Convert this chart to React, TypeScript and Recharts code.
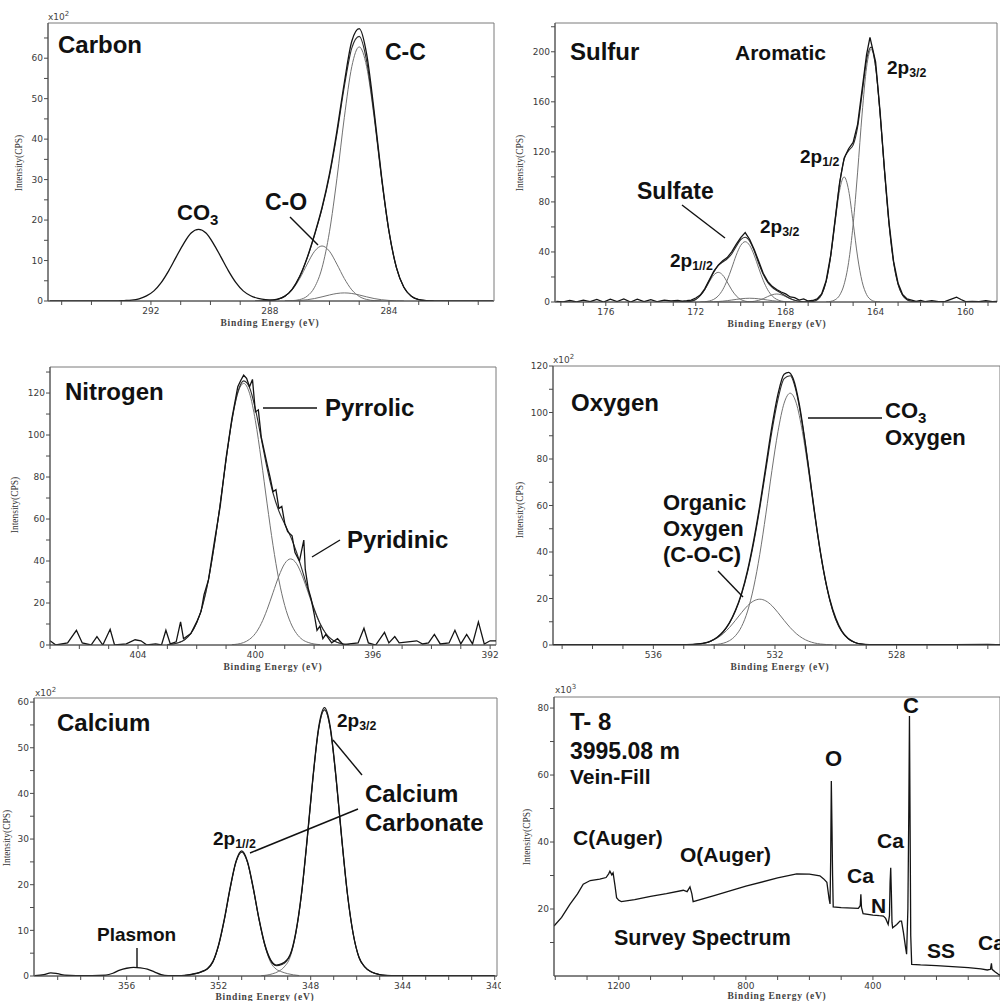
import React from 'react';
import { LineChart, Line, XAxis, YAxis, ReferenceArea } from 'recharts';

type Pt = [number, number];

// ---------- Carbon 1s ----------
const carbonXTicks = [281, 282, 283, 284, 285, 286, 287, 288, 289, 290, 291, 292, 293, 294, 295];
const carbonXLabels = [284, 288, 292];
const carbonYTicks = [0, 5, 10, 15, 20, 25, 30, 35, 40, 45, 50, 55, 60, 65];
const carbonYLabels = [0, 10, 20, 30, 40, 50, 60];

const carbonData: Pt[] = [
  [295.4, 0], [293.2, 0], [292.9, 0.1], [292.65, 0.22], [292.4, 0.55], [292.15, 1.25], [291.9, 2.5],
  [291.65, 4.6], [291.4, 7.5], [291.15, 10.9], [290.9, 14.2], [290.65, 16.8], [290.4, 17.7],
  [290.15, 16.8], [289.9, 14.2], [289.65, 10.9], [289.4, 7.5], [289.15, 4.6], [288.9, 2.5],
  [288.65, 1.3], [288.4, 0.65], [288.15, 0.35], [287.9, 0.3], [287.75, 0.45], [287.5, 1.2],
  [287.25, 2.95], [287.0, 6.1], [286.75, 10.7], [286.5, 16.5], [286.25, 23.1], [286.0, 31.4],
  [285.75, 42.0], [285.5, 54.0], [285.25, 64.2], [285.0, 67.3], [284.75, 61.0], [284.5, 47.0],
  [284.25, 30.8], [284.0, 17.3], [283.75, 8.3], [283.5, 3.4], [283.25, 1.2], [283.0, 0.35],
  [282.75, 0.09], [282.5, 0], [280.5, 0],
];
const carbonEnvelope: Pt[] = [
  [288.5, 0], [288.25, 0.02], [288.0, 0.1], [287.75, 0.38], [287.5, 1.16], [287.25, 2.9], [287.0, 6.04],
  [286.75, 10.6], [286.5, 16.3], [286.25, 22.8], [286.0, 30.9], [285.75, 41.2], [285.5, 53.0],
  [285.25, 62.5], [285.0, 65.4], [284.75, 59.3], [284.5, 46.1], [284.25, 30.5], [284.0, 17.2],
  [283.75, 8.25], [283.5, 3.4], [283.25, 1.2], [283.0, 0.35], [282.75, 0.09], [282.5, 0],
];
const carbonCC: Pt[] = [
  [287.5, 0.02], [287.25, 0.09], [287.0, 0.35], [286.75, 1.2], [286.5, 3.4], [286.25, 8.2], [286.0, 17.1],
  [285.75, 30.2], [285.5, 45.4], [285.25, 57.9], [285.0, 62.8], [284.75, 57.9], [284.5, 45.4],
  [284.25, 30.2], [284.0, 17.1], [283.75, 8.2], [283.5, 3.4], [283.25, 1.2], [283.0, 0.35],
  [282.75, 0.09], [282.5, 0.02],
];
const carbonCO: Pt[] = [
  [288.25, 0.02], [288.0, 0.1], [287.75, 0.38], [287.5, 1.13], [287.25, 2.76], [287.0, 5.55], [286.75, 9.1],
  [286.5, 12.3], [286.25, 13.6], [286.0, 12.3], [285.75, 9.1], [285.5, 5.55], [285.25, 2.76],
  [285.0, 1.13], [284.75, 0.38], [284.5, 0.1], [284.25, 0.02],
];
const carbonMinor: Pt[] = [
  [287.5, 0.01], [287.25, 0.05], [287.0, 0.14], [286.75, 0.31], [286.5, 0.61], [286.25, 1.03], [286.0, 1.49],
  [285.75, 1.86], [285.5, 2.0], [285.25, 1.86], [285.0, 1.49], [284.75, 1.03], [284.5, 0.61],
  [284.25, 0.31], [284.0, 0.14], [283.75, 0.05], [283.5, 0.01],
];

// ---------- Sulfur 2p ----------
const sulfurXTicks = [159, 160, 161, 162, 163, 164, 165, 166, 167, 168, 169, 170, 171, 172, 173, 174, 175, 176, 177, 178];
const sulfurXLabels = [160, 164, 168, 172, 176];
const sulfurYTicks = [0, 20, 40, 60, 80, 100, 120, 140, 160, 180, 200, 220];
const sulfurYLabels = [0, 40, 80, 120, 160, 200];

const sulfurData: Pt[] = [
  [178.2, 0.5], [177.9, 0], [177.6, 1.2], [177.3, 0], [177.0, 1.5], [176.7, 0.3], [176.4, 2.0], [176.1, 0],
  [175.8, 2.2], [175.5, 0.4], [175.2, 2.5], [174.9, 0], [174.6, 2.2], [174.3, 0.3], [174.0, 1.8],
  [173.7, 0.2], [173.4, 1.5], [173.1, 0.8], [172.8, 1.2], [172.6, 0.6], [172.4, 1.0], [172.2, 1.5],
  [172.0, 3.2], [171.8, 5.5], [171.6, 10.5], [171.4, 17.5], [171.2, 24.5], [171.0, 29.5], [170.8, 33.0],
  [170.6, 35.5], [170.4, 40.0], [170.2, 46.0], [170.0, 51.5], [169.8, 55.5], [169.6, 50.0], [169.4, 42.0],
  [169.2, 32.5], [169.0, 23.0], [168.8, 16.5], [168.6, 12.5], [168.4, 10.0], [168.2, 8.0], [168.0, 6.5],
  [167.8, 4.0], [167.6, 3.5], [167.4, 1.5], [167.2, 2.5], [167.0, 0.8], [166.8, 1.2], [166.6, 2.5],
  [166.4, 6.5], [166.2, 17], [166.0, 37], [165.8, 66], [165.6, 95.5], [165.4, 115], [165.2, 122.5],
  [165.0, 127.5], [164.8, 142], [164.6, 170], [164.4, 198], [164.25, 211.5], [164.0, 192], [163.8, 152],
  [163.6, 105], [163.4, 63], [163.2, 32.5], [163.0, 15], [162.8, 6.0], [162.6, 2.5], [162.4, 1.5],
  [162.2, 0.5], [162.0, 1.2], [161.8, 0.3], [161.5, 1.0], [161.2, 0.2], [160.9, 0.5], [160.6, 2.5],
  [160.4, 3.8], [160.2, 2.0], [160.0, 0.3], [159.7, 0.5], [159.4, 0.2], [159.1, 1.0], [158.8, 0.3], [158.6, 0.5],
];
const sulfurEnvelope: Pt[] = [
  [173.0, 0], [172.6, 0.04], [172.4, 0.19], [172.2, 0.68], [172.0, 2.0], [171.8, 5.0], [171.6, 10.0],
  [171.4, 16.9], [171.2, 23.8], [171.0, 29.0], [170.8, 32.0], [170.6, 34.5], [170.4, 38.4], [170.2, 44.4],
  [170.0, 49.8], [169.8, 51.8], [169.6, 48.6], [169.4, 40.9], [169.2, 31.0], [169.0, 22.1], [168.8, 15.7],
  [168.6, 11.7], [168.4, 9.2], [168.2, 7.0], [168.0, 4.8], [167.8, 2.8], [167.6, 1.4], [167.4, 0.54],
  [167.2, 0.18], [167.0, 0.12], [166.8, 0.39], [166.6, 1.69], [166.4, 5.9], [166.2, 16.4], [166.0, 36.5],
  [165.8, 65.4], [165.6, 94.7], [165.4, 114.1], [165.2, 121.0], [165.0, 125.4], [164.8, 139.8],
  [164.6, 166.6], [164.4, 193.6], [164.2, 203.7], [164.0, 188.1], [163.8, 150.4], [163.6, 103.8],
  [163.4, 61.8], [163.2, 31.7], [163.0, 14.1], [162.8, 5.4], [162.6, 1.78], [162.4, 0.5], [162.2, 0.12], [162.0, 0],
];
const sulfate2p12: Pt[] = [
  [172.6, 0.04], [172.4, 0.19], [172.2, 0.68], [172.0, 2.0], [171.8, 4.9], [171.6, 9.7], [171.4, 16.0],
  [171.2, 21.5], [171.0, 23.7], [170.8, 21.5], [170.6, 16.0], [170.4, 9.7], [170.2, 4.9], [170.0, 2.0],
  [169.8, 0.68], [169.6, 0.19], [169.4, 0.04],
];
const sulfate2p32: Pt[] = [
  [171.8, 0.08], [171.6, 0.27], [171.4, 0.81], [171.2, 2.1], [171.0, 4.85], [170.8, 9.8], [170.6, 17.4],
  [170.4, 27.1], [170.2, 37.4], [170.0, 45.2], [169.8, 48.2], [169.6, 45.2], [169.4, 37.4], [169.2, 27.1],
  [169.0, 17.4], [168.8, 9.8], [168.6, 4.85], [168.4, 2.1], [168.2, 0.81], [168.0, 0.27], [167.8, 0.08],
];
const sulfateMinorA: Pt[] = [
  [169.8, 0.05], [169.6, 0.18], [169.4, 0.54], [169.2, 1.32], [169.0, 2.63], [168.8, 4.31], [168.6, 5.8],
  [168.4, 6.4], [168.2, 5.8], [168.0, 4.31], [167.8, 2.63], [167.6, 1.32], [167.4, 0.54], [167.2, 0.18], [167.0, 0.05],
];
const sulfateMinorB: Pt[] = [
  [171.6, 0.05], [171.4, 0.11], [171.2, 0.22], [171.0, 0.4], [170.8, 0.69], [170.6, 1.08], [170.4, 1.56],
  [170.2, 2.08], [170.0, 2.55], [169.8, 2.88], [169.6, 3.0], [169.4, 2.88], [169.2, 2.55], [169.0, 2.08],
  [168.8, 1.56], [168.6, 1.08], [168.4, 0.69], [168.2, 0.4], [168.0, 0.22], [167.8, 0.11], [167.6, 0.05],
];
const aromatic2p12: Pt[] = [
  [167.0, 0.07], [166.8, 0.39], [166.6, 1.69], [166.4, 5.9], [166.2, 16.3], [166.0, 36.0], [165.8, 63.6],
  [165.6, 89.3], [165.4, 100], [165.2, 89.3], [165.0, 63.6], [164.8, 36.0], [164.6, 16.3], [164.4, 5.9],
  [164.2, 1.69], [164.0, 0.39], [163.8, 0.07],
];
const aromatic2p32: Pt[] = [
  [166.2, 0.12], [166.0, 0.5], [165.8, 1.78], [165.6, 5.4], [165.4, 14.1], [165.2, 31.7], [165.0, 61.8],
  [164.8, 103.8], [164.6, 150.3], [164.4, 187.7], [164.2, 202], [164.0, 187.7], [163.8, 150.3],
  [163.6, 103.8], [163.4, 61.8], [163.2, 31.7], [163.0, 14.1], [162.8, 5.4], [162.6, 1.78], [162.4, 0.5], [162.2, 0.12],
];

// ---------- Nitrogen 1s ----------
const nitrogenXTicks = [392, 393, 394, 395, 396, 397, 398, 399, 400, 401, 402, 403, 404, 405, 406, 407];
const nitrogenXLabels = [392, 396, 400, 404];
const nitrogenYTicks = [0, 10, 20, 30, 40, 50, 60, 70, 80, 90, 100, 110, 120, 130];
const nitrogenYLabels = [0, 20, 40, 60, 80, 100, 120];

const nitrogenData: Pt[] = [
  [407.0, 2], [406.8, 0], [406.4, 1], [406.1, 7], [405.9, 1], [405.6, 0], [405.4, 4], [405.2, 0], [404.95, 7.5],
  [404.8, 0], [404.4, 0.5], [404.1, 2.5], [403.9, 2], [403.7, 0], [403.4, 0.5], [403.2, 0], [403.05, 7],
  [402.9, 0.5], [402.7, 1.5], [402.55, 11], [402.45, 3], [402.2, 5.5], [402.0, 11], [401.85, 16],
  [401.75, 24], [401.6, 31], [401.4, 49], [401.2, 66], [401.0, 89], [400.8, 108], [400.6, 123],
  [400.5, 126], [400.4, 128.5], [400.3, 127], [400.2, 123], [400.1, 126.5], [400.0, 111], [399.9, 112],
  [399.8, 99], [399.6, 86], [399.5, 80], [399.4, 73], [399.3, 74], [399.2, 65], [399.1, 66], [399.0, 58],
  [398.9, 54], [398.75, 52], [398.65, 44], [398.5, 40], [398.35, 50], [398.3, 36], [398.2, 27], [398.1, 22],
  [398.0, 15], [397.9, 7], [397.8, 9], [397.7, 3], [397.6, 5], [397.4, 1], [397.2, 3], [397.0, 0],
  [396.8, 0.5], [396.5, 1], [396.3, 8], [396.15, 1], [395.9, 0], [395.6, 6], [395.45, 1], [395.25, 4],
  [395.1, 1], [394.8, 1.5], [394.5, 2], [394.3, 0.5], [394.1, 1], [393.9, 5], [393.7, 0.5], [393.4, 1],
  [393.2, 7], [393.0, 0.5], [392.8, 5], [392.6, 0.5], [392.4, 11], [392.2, 0.5], [392.0, 2], [391.8, 2],
];
const nitrogenEnvelope: Pt[] = [
  [403.0, 0.19], [402.8, 0.49], [402.6, 1.2], [402.4, 2.6], [402.2, 5.5], [402.0, 10.6], [401.8, 18.8],
  [401.6, 31.0], [401.4, 47.5], [401.2, 67.2], [401.0, 88.1], [400.8, 107.0], [400.6, 120.4], [400.4, 125.8],
  [400.2, 122.6], [400.0, 112.3], [399.8, 98.3], [399.6, 84.1], [399.4, 72.4], [399.2, 63.8], [399.0, 57.6],
  [398.8, 51.6], [398.6, 44.3], [398.4, 35.4], [398.2, 26.1], [398.0, 17.4], [397.8, 10.4], [397.6, 5.5],
  [397.4, 2.7], [397.2, 1.17], [397.0, 0.46], [396.8, 0.16],
];
const nitrogenPyrrolic: Pt[] = [
  [403.0, 0.19], [402.8, 0.49], [402.6, 1.2], [402.4, 2.6], [402.2, 5.5], [402.0, 10.6], [401.8, 18.8],
  [401.6, 31.0], [401.4, 47.5], [401.2, 67.2], [401.0, 88.1], [400.8, 106.8], [400.6, 119.9], [400.4, 124.6],
  [400.2, 119.9], [400.0, 106.8], [399.8, 88.1], [399.6, 67.2], [399.4, 47.5], [399.2, 31.0], [399.0, 18.8],
  [398.8, 10.6], [398.6, 5.5], [398.4, 2.6], [398.2, 1.2], [398.0, 0.49], [397.8, 0.19],
];
const nitrogenPyridinic: Pt[] = [
  [400.8, 0.16], [400.6, 0.46], [400.4, 1.17], [400.2, 2.7], [400.0, 5.5], [399.8, 10.2], [399.6, 16.9],
  [399.4, 24.9], [399.2, 32.8], [399.0, 38.8], [398.8, 41], [398.6, 38.8], [398.4, 32.8], [398.2, 24.9],
  [398.0, 16.9], [397.8, 10.2], [397.6, 5.5], [397.4, 2.7], [397.2, 1.17], [397.0, 0.46], [396.8, 0.16],
];

// ---------- Oxygen 1s ----------
const oxygenXTicks = [525, 526, 527, 528, 529, 530, 531, 532, 533, 534, 535, 536, 537, 538, 539];
const oxygenXLabels = [528, 532, 536];
const oxygenYTicks = [0, 10, 20, 30, 40, 50, 60, 70, 80, 90, 100, 110, 120];
const oxygenYLabels = [0, 20, 40, 60, 80, 100, 120];

const oxygenData: Pt[] = [
  [539.3, 0.2], [537.0, 0.1], [535.1, 0.1], [534.7, 0.3], [534.3, 0.9], [534.1, 1.8], [533.9, 3.3],
  [533.7, 5.8], [533.5, 9.5], [533.3, 14.9], [533.1, 22.2], [532.9, 32.2], [532.7, 45.0], [532.5, 60.0],
  [532.3, 77.0], [532.1, 94.0], [531.9, 108.0], [531.7, 116.5], [531.55, 117.3], [531.4, 114.5],
  [531.2, 103.5], [531.0, 86.5], [530.8, 67.0], [530.6, 48.0], [530.4, 32.0], [530.2, 19.8], [530.0, 11.5],
  [529.8, 6.0], [529.6, 2.9], [529.4, 1.3], [529.2, 0.5], [528.9, 0.2], [527.0, 0.1], [525.0, 0.3], [524.6, 0.2],
];
const oxygenEnvelope: Pt[] = [
  [534.9, 0.08], [534.7, 0.19], [534.5, 0.42], [534.3, 0.86], [534.1, 1.77], [533.9, 3.27], [533.7, 5.68],
  [533.5, 9.34], [533.3, 14.6], [533.1, 21.8], [532.9, 31.5], [532.7, 43.9], [532.5, 58.7], [532.3, 75.3],
  [532.1, 92.0], [531.9, 105.8], [531.7, 114.6], [531.5, 115.8], [531.3, 108.9], [531.1, 94.9],
  [530.9, 76.8], [530.7, 57.2], [530.5, 39.4], [530.3, 25.1], [530.1, 14.7], [529.9, 7.9], [529.7, 4.0],
  [529.5, 1.84], [529.3, 0.78], [529.1, 0.3], [528.9, 0.1],
];
const oxygenCarbonate: Pt[] = [
  [534.1, 0.1], [533.9, 0.3], [533.7, 0.78], [533.5, 1.84], [533.3, 4.0], [533.1, 7.9], [532.9, 14.6],
  [532.7, 24.9], [532.5, 39.0], [532.3, 56.3], [532.1, 75.1], [531.9, 91.9], [531.7, 104.0], [531.5, 108.3],
  [531.3, 104.0], [531.1, 91.9], [530.9, 75.1], [530.7, 56.3], [530.5, 39.0], [530.3, 24.9], [530.1, 14.6],
  [529.9, 7.9], [529.7, 4.0], [529.5, 1.84], [529.3, 0.78], [529.1, 0.3], [528.9, 0.1],
];
const oxygenOrganic: Pt[] = [
  [534.9, 0.08], [534.7, 0.19], [534.5, 0.42], [534.3, 0.86], [534.1, 1.67], [533.9, 2.97], [533.7, 4.9],
  [533.5, 7.5], [533.3, 10.6], [533.1, 13.9], [532.9, 16.9], [532.7, 18.95], [532.5, 19.7], [532.3, 18.95],
  [532.1, 16.9], [531.9, 13.9], [531.7, 10.6], [531.5, 7.5], [531.3, 4.9], [531.1, 2.97], [530.9, 1.67],
  [530.7, 0.86], [530.5, 0.42], [530.3, 0.19], [530.1, 0.08],
];

// ---------- Calcium 2p ----------
const calciumXTicks = [340, 341, 342, 343, 344, 345, 346, 347, 348, 349, 350, 351, 352, 353, 354, 355, 356, 357, 358, 359];
const calciumXLabels = [340, 344, 348, 352, 356];
const calciumYTicks = [0, 5, 10, 15, 20, 25, 30, 35, 40, 45, 50, 55, 60];
const calciumYLabels = [0, 10, 20, 30, 40, 50, 60];

const calciumData: Pt[] = [
  [360.0, 0.1], [359.6, 0.3], [359.3, 0.7], [359.0, 0.5], [358.7, 0.2], [358.2, 0.1], [357.5, 0.1],
  [356.9, 0.2], [356.6, 0.6], [356.3, 1.3], [356.0, 1.7], [355.7, 1.9], [355.4, 1.8], [355.1, 1.5],
  [354.8, 0.9], [354.5, 0.3], [354.2, 0.1], [353.75, 0.1], [353.5, 0.15], [353.25, 0.3], [353.0, 0.55],
  [352.75, 0.95], [352.5, 1.6], [352.25, 3.2], [352.0, 6.9], [351.75, 12.6], [351.5, 19.4], [351.25, 25.1],
  [351.0, 27.4], [350.75, 25.1], [350.5, 19.4], [350.25, 12.6], [350.0, 7.0], [349.75, 3.6], [349.5, 2.4],
  [349.25, 2.7], [348.9, 4.6], [348.65, 9.5], [348.4, 18.1], [348.15, 30.3], [347.9, 43.7], [347.65, 54.6],
  [347.4, 58.8], [347.15, 54.6], [346.9, 43.7], [346.65, 30.2], [346.4, 17.9], [346.15, 9.2], [345.9, 4.1],
  [345.65, 2.0], [345.4, 1.0], [345.15, 0.5], [344.9, 0.2], [344.5, 0.1], [342.0, 0.1], [340.0, 0.1],
];
const calciumEnvelope: Pt[] = [
  [353.5, 0.1], [353.25, 0.25], [353.0, 0.5], [352.75, 0.9], [352.5, 1.5], [352.25, 3.09], [352.0, 6.75],
  [351.75, 12.4], [351.5, 19.2], [351.25, 24.9], [351.0, 27.1], [350.75, 24.9], [350.5, 19.2], [350.25, 12.45],
  [350.0, 6.9], [349.75, 3.44], [349.5, 2.25], [349.25, 2.5], [348.9, 4.46], [348.65, 9.35], [348.4, 17.9],
  [348.15, 30.0], [347.9, 43.4], [347.65, 54.2], [347.4, 58.3], [347.15, 54.2], [346.9, 43.4], [346.65, 30.0],
  [346.4, 17.8], [346.15, 9.15], [345.9, 4.06], [345.65, 2.0], [345.4, 1.0], [345.15, 0.5], [344.9, 0.2], [344.65, 0.08],
];
const calcium2p12: Pt[] = [
  [353.5, 0.1], [353.25, 0.25], [353.0, 0.5], [352.75, 0.9], [352.5, 1.5], [352.25, 3.09], [352.0, 6.75],
  [351.75, 12.4], [351.5, 19.2], [351.25, 24.9], [351.0, 27.1], [350.75, 24.9], [350.5, 19.2], [350.25, 12.4],
  [350.0, 6.75], [349.75, 3.09], [349.5, 1.5], [349.25, 0.9], [349.0, 0.5], [348.75, 0.25], [348.5, 0.1],
];
const calcium2p32: Pt[] = [
  [350.15, 0.08], [349.9, 0.2], [349.65, 0.5], [349.4, 1.0], [349.15, 2.0], [348.9, 4.06], [348.65, 9.15],
  [348.4, 17.8], [348.15, 30.0], [347.9, 43.4], [347.65, 54.2], [347.4, 58.3], [347.15, 54.2], [346.9, 43.4],
  [346.65, 30.0], [346.4, 17.8], [346.15, 9.15], [345.9, 4.06], [345.65, 2.0], [345.4, 1.0], [345.15, 0.5],
  [344.9, 0.2], [344.65, 0.08],
];

// ---------- Survey ----------
const surveyXTicks = [0, 100, 200, 300, 400, 500, 600, 700, 800, 900, 1000, 1100, 1200, 1300, 1400];
const surveyXLabels = [400, 800, 1200];
const surveyYTicks = [10, 20, 30, 40, 50, 60, 70, 80];
const surveyYLabels = [20, 40, 60, 80];

const surveyData: Pt[] = [
  [1404, 14.9], [1380, 17.5], [1354, 21.4], [1330, 24.5], [1312, 27.4], [1290, 28.5], [1260, 28.9],
  [1240, 29.4], [1232, 30.5], [1228, 31.3], [1222, 30.2], [1218, 30.8], [1212, 27], [1207, 23.4],
  [1200, 22.6], [1192, 22.2], [1150, 22.8], [1100, 23.8], [1050, 24.6], [997, 25.6], [985, 25.2],
  [976, 26.6], [970, 24.5], [966, 22.2], [900, 24.0], [800, 26.8], [700, 29.3], [640, 30.5], [600, 30.4],
  [567, 29.9], [555, 29.0], [545, 28.0], [538, 23.0], [535, 21.5], [533, 35], [531, 58.2], [529, 45],
  [527, 30], [525, 20.6], [500, 20.4], [446, 20.2], [440, 21.0], [438, 24.4], [436, 20.5], [431, 18.6],
  [400, 18.2], [380, 18.0], [367, 17.9], [360, 17.2], [352, 15.4], [348, 18], [346, 28], [344, 32.3],
  [342, 25], [340, 16], [338, 14.4], [325, 15.4], [315, 16.4], [310, 16.4], [304, 13], [298, 9],
  [294, 6.5], [290, 20], [287, 50], [285, 77.6], [283, 45], [281, 12], [278, 3.5], [250, 3.3],
  [200, 3.1], [150, 2.8], [100, 2.5], [60, 2.1], [40, 1.8], [30, 2.0], [27, 3.8], [25, 2.0], [15, 1.2],
  [5, 0.5], [0, 0.2],
];

type Kind = 'data' | 'env' | 'comp';
interface Curve { pts: Pt[]; kind: Kind; linear?: boolean }
interface Box { x0: number; y0: number; x1: number; y1: number }

const toRows = (pts: Pt[]) => pts.map(([e, v]) => ({ e, v }));

const curveStyle: Record<Kind, { stroke: string; width: number }> = {
  data: { stroke: '#141414', width: 1.3 },
  env: { stroke: '#2e2e2e', width: 1.1 },
  comp: { stroke: '#727272', width: 1 },
};

const tickStyle = { fontSize: 9, fill: '#3a3a3a', fontFamily: '"DejaVu Sans", sans-serif' };

function Panel(props: {
  box: Box;
  xDomain: [number, number];
  yDomain: [number, number];
  xTicks: number[];
  xLabels: number[];
  yTicks: number[];
  yLabels: number[];
  curves: Curve[];
}) {
  const { box, xDomain, yDomain, xTicks, xLabels, yTicks, yLabels, curves } = props;
  const yW = 32;
  const xH = 22;
  const mt = 4;
  const mr = 4;
  const w = box.x1 - box.x0 + yW + mr;
  const h = box.y1 - box.y0 + mt + xH;
  return (
    <div style={{ position: 'absolute', left: box.x0 - yW, top: box.y0 - mt }}>
      <LineChart width={w} height={h} margin={{ top: mt, right: mr, bottom: 0, left: 0 }}>
        <XAxis
          type="number"
          dataKey="e"
          domain={xDomain}
          reversed
          allowDataOverflow
          ticks={xTicks}
          interval={0}
          tickFormatter={(v: number) => (xLabels.includes(v) ? String(v) : '')}
          tickSize={4}
          tickMargin={3}
          height={xH}
          stroke="#4a4a4a"
          tick={tickStyle}
        />
        <YAxis
          type="number"
          domain={yDomain}
          allowDataOverflow
          ticks={yTicks}
          interval={0}
          tickFormatter={(v: number) => (yLabels.includes(v) ? String(v) : '')}
          tickSize={4}
          tickMargin={1}
          width={yW}
          stroke="#4a4a4a"
          tick={tickStyle}
        />
        <ReferenceArea
          x1={xDomain[0]}
          x2={xDomain[1]}
          y1={yDomain[0]}
          y2={yDomain[1]}
          fill="none"
          stroke="#7a7a7a"
          strokeWidth={1}
          ifOverflow="visible"
        />
        {curves.map((c, i) => (
          <Line
            key={i}
            data={toRows(c.pts)}
            dataKey="v"
            type={c.linear ? 'linear' : 'monotone'}
            stroke={curveStyle[c.kind].stroke}
            strokeWidth={curveStyle[c.kind].width}
            dot={false}
            activeDot={false}
            isAnimationActive={false}
          />
        ))}
      </LineChart>
    </div>
  );
}

const bold: React.CSSProperties = { fontFamily: '"Liberation Sans", Arial, sans-serif', fontWeight: 700 };
const serif: React.CSSProperties = { fontFamily: '"Liberation Serif", "Times New Roman", serif' };

function Lbl({ x, y, size, children }: { x: number; y: number; size: number; children: React.ReactNode }) {
  return (
    <text x={x} y={y} fontSize={size} fill="#111" style={bold}>
      {children}
    </text>
  );
}

function Orb({ x, y, size, sub }: { x: number; y: number; size: number; sub: string }) {
  return (
    <text x={x} y={y} fontSize={size} fill="#111" style={bold}>
      2p<tspan fontSize={size * 0.65} dy={3}>{sub}</tspan>
    </text>
  );
}

function YTitle({ x, y }: { x: number; y: number }) {
  return (
    <text x={x} y={y} transform={`rotate(-90 ${x} ${y})`} textAnchor="middle" fontSize={9.5} fill="#333" style={serif}>
      Intensity(CPS)
    </text>
  );
}

function XTitle({ x, y }: { x: number; y: number }) {
  return (
    <text x={x} y={y} textAnchor="middle" fontSize={9.5} fontWeight={700} letterSpacing={0.8} fill="#444" style={serif}>
      Binding Energy (eV)
    </text>
  );
}

function Mult({ x, y, p }: { x: number; y: number; p: string }) {
  return (
    <text x={x} y={y} fontSize={9} fill="#444" style={{ fontFamily: '"DejaVu Sans", sans-serif' }}>
      x10<tspan fontSize={7} dy={-4}>{p}</tspan>
    </text>
  );
}

const lead = { stroke: '#111', strokeWidth: 1.4 };

export default function App() {
  return (
    <div style={{ position: 'absolute', left: 0, top: 0, width: 1000, height: 1001, background: '#fff', overflow: 'hidden' }}>
      <Panel
        box={{ x0: 48, y0: 23, x1: 494, y1: 301 }}
        xDomain={[280.47, 295.46]}
        yDomain={[0, 68.7]}
        xTicks={carbonXTicks}
        xLabels={carbonXLabels}
        yTicks={carbonYTicks}
        yLabels={carbonYLabels}
        curves={[
          { pts: carbonMinor, kind: 'comp' },
          { pts: carbonCO, kind: 'comp' },
          { pts: carbonCC, kind: 'comp' },
          { pts: carbonEnvelope, kind: 'env' },
          { pts: carbonData, kind: 'data' },
        ]}
      />
      <Panel
        box={{ x0: 555, y0: 23, x1: 997, y1: 302 }}
        xDomain={[158.6, 178.26]}
        yDomain={[0, 223]}
        xTicks={sulfurXTicks}
        xLabels={sulfurXLabels}
        yTicks={sulfurYTicks}
        yLabels={sulfurYLabels}
        curves={[
          { pts: sulfateMinorA, kind: 'comp' },
          { pts: sulfateMinorB, kind: 'comp' },
          { pts: sulfate2p12, kind: 'comp' },
          { pts: sulfate2p32, kind: 'comp' },
          { pts: aromatic2p12, kind: 'comp' },
          { pts: aromatic2p32, kind: 'comp' },
          { pts: sulfurEnvelope, kind: 'env' },
          { pts: sulfurData, kind: 'data', linear: true },
        ]}
      />
      <Panel
        box={{ x0: 50, y0: 367, x1: 496, y1: 645 }}
        xDomain={[391.8, 407.0]}
        yDomain={[0, 132.4]}
        xTicks={nitrogenXTicks}
        xLabels={nitrogenXLabels}
        yTicks={nitrogenYTicks}
        yLabels={nitrogenYLabels}
        curves={[
          { pts: nitrogenPyridinic, kind: 'comp' },
          { pts: nitrogenPyrrolic, kind: 'comp' },
          { pts: nitrogenEnvelope, kind: 'env' },
          { pts: nitrogenData, kind: 'data', linear: true },
        ]}
      />
      <Panel
        box={{ x0: 553, y0: 366, x1: 1000, y1: 645 }}
        xDomain={[524.6, 539.3]}
        yDomain={[0, 120]}
        xTicks={oxygenXTicks}
        xLabels={oxygenXLabels}
        yTicks={oxygenYTicks}
        yLabels={oxygenYLabels}
        curves={[
          { pts: oxygenOrganic, kind: 'comp' },
          { pts: oxygenCarbonate, kind: 'comp' },
          { pts: oxygenEnvelope, kind: 'env' },
          { pts: oxygenData, kind: 'data' },
        ]}
      />
      <Panel
        box={{ x0: 34, y0: 698, x1: 497, y1: 976 }}
        xDomain={[339.9, 360.03]}
        yDomain={[0, 60.9]}
        xTicks={calciumXTicks}
        xLabels={calciumXLabels}
        yTicks={calciumYTicks}
        yLabels={calciumYLabels}
        curves={[
          { pts: calcium2p12, kind: 'comp' },
          { pts: calcium2p32, kind: 'comp' },
          { pts: calciumEnvelope, kind: 'env' },
          { pts: calciumData, kind: 'data' },
        ]}
      />
      <Panel
        box={{ x0: 554, y0: 697, x1: 1000, y1: 976 }}
        xDomain={[0, 1404]}
        yDomain={[0, 83.3]}
        xTicks={surveyXTicks}
        xLabels={surveyXLabels}
        yTicks={surveyYTicks}
        yLabels={surveyYLabels}
        curves={[{ pts: surveyData, kind: 'data', linear: true }]}
      />

      <svg width={1000} height={1001} style={{ position: 'absolute', left: 0, top: 0, pointerEvents: 'none' }}>
        {/* Carbon */}
        <Mult x={48} y={20} p="2" />
        <YTitle x={22} y={163} />
        <XTitle x={270} y={326} />
        <Lbl x={58} y={53} size={24}>Carbon</Lbl>
        <Lbl x={385} y={60} size={23}>C-C</Lbl>
        <Lbl x={177} y={220} size={22}>
          CO<tspan fontSize={15} dy={5}>3</tspan>
        </Lbl>
        <Lbl x={265} y={210} size={23}>C-O</Lbl>
        <line x1={290} y1={217} x2={318} y2={245} {...lead} />

        {/* Sulfur */}
        <YTitle x={523} y={163} />
        <XTitle x={777} y={327} />
        <Lbl x={570} y={60} size={24}>Sulfur</Lbl>
        <Lbl x={735} y={60} size={21}>Aromatic</Lbl>
        <Orb x={887} y={74} size={19} sub="3/2" />
        <Orb x={800} y={163} size={19} sub="1/2" />
        <Lbl x={637} y={199} size={23}>Sulfate</Lbl>
        <line x1={682} y1={205} x2={725} y2={238} {...lead} />
        <Orb x={760} y={233} size={19} sub="3/2" />
        <Orb x={670} y={267} size={19} sub="1//2" />

        {/* Nitrogen */}
        <YTitle x={18} y={505} />
        <XTitle x={273} y={670} />
        <Lbl x={65} y={400} size={24}>Nitrogen</Lbl>
        <Lbl x={325} y={416} size={24}>Pyrrolic</Lbl>
        <line x1={263} y1={408} x2={317} y2={408} {...lead} />
        <Lbl x={347} y={548} size={24}>Pyridinic</Lbl>
        <line x1={312} y1={557} x2={340} y2={540} {...lead} />

        {/* Oxygen */}
        <Mult x={553} y={363} p="2" />
        <YTitle x={523} y={510} />
        <XTitle x={780} y={670} />
        <Lbl x={571} y={411} size={24}>Oxygen</Lbl>
        <Lbl x={885} y={418} size={22}>
          CO<tspan fontSize={15} dy={5}>3</tspan>
        </Lbl>
        <Lbl x={885} y={445} size={22}>Oxygen</Lbl>
        <line x1={808} y1={418} x2={882} y2={418} {...lead} />
        <Lbl x={663} y={510} size={22}>Organic</Lbl>
        <Lbl x={663} y={536} size={22}>Oxygen</Lbl>
        <Lbl x={663} y={562} size={22}>(C-O-C)</Lbl>
        <line x1={718} y1={571} x2={743} y2={597} {...lead} />

        {/* Calcium */}
        <Mult x={35} y={696} p="2" />
        <YTitle x={10} y={838} />
        <XTitle x={265} y={1000} />
        <Lbl x={57} y={731} size={24}>Calcium</Lbl>
        <Orb x={337} y={727} size={19} sub="3/2" />
        <line x1={333} y1={740} x2={362} y2={775} {...lead} />
        <Lbl x={365} y={802} size={24}>Calcium</Lbl>
        <Lbl x={365} y={831} size={24}>Carbonate</Lbl>
        <line x1={250} y1={853} x2={358} y2={809} {...lead} />
        <Orb x={213} y={845} size={19} sub="1//2" />
        <Lbl x={97} y={941} size={19}>Plasmon</Lbl>
        <line x1={137} y1={948} x2={137} y2={967} {...lead} />

        {/* Survey */}
        <Mult x={555} y={693} p="3" />
        <YTitle x={530} y={837} />
        <XTitle x={777} y={999} />
        <Lbl x={570} y={730} size={24}>T- 8</Lbl>
        <Lbl x={570} y={759} size={23}>3995.08 m</Lbl>
        <Lbl x={570} y={784} size={21}>Vein-Fill</Lbl>
        <Lbl x={825} y={766} size={22}>O</Lbl>
        <Lbl x={903} y={713} size={22}>C</Lbl>
        <Lbl x={573} y={845} size={21}>C(Auger)</Lbl>
        <Lbl x={680} y={862} size={21}>O(Auger)</Lbl>
        <Lbl x={877} y={848} size={21}>Ca</Lbl>
        <Lbl x={847} y={883} size={21}>Ca</Lbl>
        <Lbl x={871} y={913} size={21}>N</Lbl>
        <Lbl x={614} y={945} size={21.5}>Survey Spectrum</Lbl>
        <Lbl x={927} y={958} size={21}>SS</Lbl>
        <Lbl x={978} y={950} size={21}>Ca</Lbl>
      </svg>
    </div>
  );
}
